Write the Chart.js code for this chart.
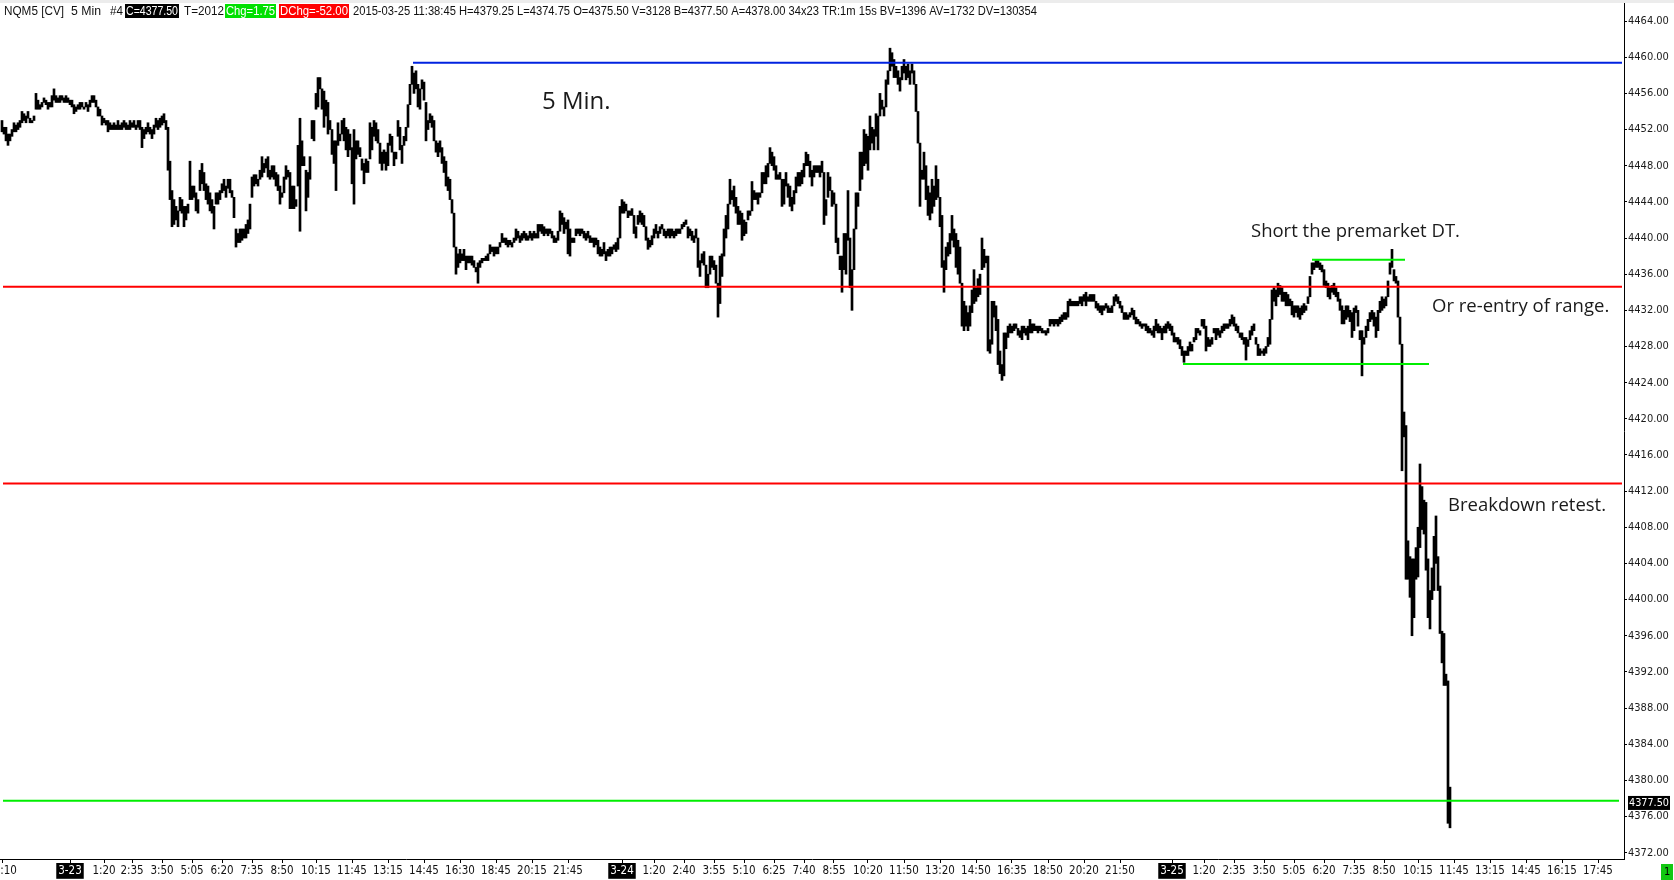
<!DOCTYPE html>
<html>
<head>
<meta charset="utf-8">
<title>NQM5 [CV] 5 Min</title>
<script src="https://cdn.jsdelivr.net/npm/chart.js@4.4.1/dist/chart.umd.min.js"></script>
<style>
html,body{margin:0;padding:0;background:#fff;overflow:hidden;}
canvas{display:block;}
</style>
</head>
<body>
<canvas id="mychart" width="1674" height="880"></canvas>
<script>
// 5 min bars, one slot per bar (index 0 = 3-22 21:10, last = 3-25 11:35)
const barHigh = [
4453,4452.25,4452.25,4451.5,4451.5,4452,4452.75,4452.5,4452.75,4453,
4454,4453.75,4453.5,4454,4453.25,4453,4453.5,4456,4455.25,4454.75,
4455,4455.5,4455.25,4455,4455,4455.75,4456.5,4455.75,4455.5,4455.75,
4455.75,4455.5,4455.75,4455.5,4455.25,4455.25,4454.75,4454.5,4454.75,4455,
4455,4454.5,4455,4454.75,4455.25,4455.75,4455.75,4455.25,4454.5,4454.25,
4453.5,4453.25,4453,4453,4452.75,4452.5,4452.75,4452.5,4453,4452.5,
4452.75,4453,4452.75,4452.5,4453,4452.75,4453,4452.5,4453,4453,
4452.25,4452,4452.25,4452.75,4452.25,4452,4452.5,4453.25,4453,4453.25,
4453.5,4453.75,4453,4452.25,4448.5,4445.25,4444.25,4443.5,4443,4444.5,
4444.25,4443.5,4443.5,4443.75,4448.5,4445.75,4445.75,4445,4444.25,4447.5,
4448.25,4447.25,4446,4445.75,4445,4444.25,4443.5,4445,4445,4445.25,
4446,4446.5,4445.75,4446.5,4446.5,4445.25,4444.5,4441,4440.5,4441,
4441,4441,4441.5,4442,4443.75,4446.75,4447,4447,4446.5,4447.5,
4449,4448.25,4448.75,4449,4447.5,4448,4448,4447.25,4447,4445.75,
4445,4446.75,4448,4447.5,4447.25,4445.75,4445.75,4444.25,4450.25,4453.25,
4450.75,4449,4447.5,4447.25,4449,4453,4453,4456,4457.75,4457.75,
4456.5,4456.25,4455.25,4455,4453,4452,4450.75,4450.75,4452.75,4451.5,
4453,4453.25,4452.25,4452,4451.5,4450,4452,4450.75,4450.75,4450,
4448.75,4448.25,4448.75,4448.5,4452.75,4452.25,4453,4452.75,4452,4450.5,
4449.5,4449.75,4449.5,4450.5,4451.5,4451.25,4449.5,4449.5,4453,4452.25,
4450.25,4451.25,4452.25,4454.75,4457,4459,4458.25,4458.5,4457,4456.5,
4457.5,4457.25,4455,4453,4453.75,4453.5,4453,4450.75,4450.5,4450.75,
4450,4449,4448.5,4446.75,4446.5,4444.25,4442.75,4439,4438.25,4438.75,
4438.25,4438.75,4438,4438,4438,4438,4437.5,4436.75,4437.25,4437.5,
4437.75,4437.75,4438,4438.25,4439.25,4439,4439,4439,4439,4439.5,
4440.5,4440,4440,4439.75,4439.75,4439.5,4440,4441,4440.75,4440.25,
4440.5,4440.75,4440.5,4440.25,4440.75,4440.5,4440.75,4440.5,4441.5,4441.5,
4441.5,4441.25,4441,4441,4441,4440.75,4440.25,4440,4440.75,4443,
4442.75,4442.25,4441.75,4442,4441,4440,4440,4441,4441,4441,
4441,4440.75,4440.5,4440.75,4440.25,4440,4440,4440,4439.75,4439,
4438.75,4439.5,4438.5,4438.75,4439,4439,4439.25,4439.5,4440,4443.5,
4444.25,4444,4443.75,4443,4443,4443.25,4442.5,4441.25,4442.5,4443,
4442.75,4442.5,4441.25,4440,4439.75,4440.25,4441,4441.5,4440.75,4441.25,
4441.5,4441,4440.75,4441,4441,4441,4440.75,4441,4441,4441,
4441.5,4441.75,4442,4441.25,4441,4440.75,4440.25,4441,4440,4437.5,
4438.25,4438.5,4437,4436,4438,4438,4437.5,4437,4435,4438,
4438.25,4441,4442.5,4443.75,4446.5,4445.25,4445.75,4444.5,4443.5,4443,
4442.75,4442,4441.75,4443,4443,4446.25,4445.25,4445,4445,4445,
4447.25,4447.25,4448,4448.25,4450,4449.5,4449,4448,4447,4447.25,
4446.5,4446.5,4447.25,4446,4445.75,4444.5,4445.25,4446.75,4447.25,4447.25,
4447.5,4448.25,4449.5,4449.25,4448.5,4447.5,4448,4448,4448,4448,
4448.5,4447.25,4444.25,4447.25,4446.75,4445.25,4445,4443.75,4440,4438,
4438,4440.5,4440.5,4445.25,4440,4436.5,4441,4445,4445,4449.5,
4449.5,4452,4451.5,4451.25,4453.5,4452.25,4452,4453.75,4453.5,4456,
4455.25,4454.5,4457.5,4458.5,4461,4460.5,4459.75,4459,4458.5,4457.75,
4459,4459.75,4459,4459.25,4458.5,4459.25,4458.5,4457,4454,4450.5,
4447.5,4449.5,4448,4445.75,4445,4446.5,4445.75,4448,4446.5,4444.5,
4442.5,4437.5,4439,4439.5,4440.5,4442.5,4441,4440.5,4439.75,4439,
4435,4433,4432.5,4431.75,4432.5,4434.25,4436.5,4434.5,4435.5,4436,
4440,4438.75,4438,4438,4428.75,4433,4433,4432.5,4431,4427.5,
4426,4429.5,4429.5,4430.25,4430.5,4430.25,4430.5,4430.5,4430,4429.75,
4430.25,4430.25,4430,4430.25,4431,4430.5,4430.5,4430.25,4430.25,4430.25,
4430,4429.75,4429.75,4430,4431,4431,4431,4431,4431,4431.25,
4431.5,4431.75,4431.75,4433,4433.25,4433,4433,4433,4433,4433.5,
4433.5,4433.75,4434,4433.5,4433.75,4433.75,4433.75,4433,4432.75,4432.5,
4432.5,4432.5,4432.75,4432.5,4432.25,4432.5,4433.5,4433.75,4433.5,4433,
4432.5,4431.75,4431.75,4431.5,4431.75,4432.25,4432,4431.25,4431,4430.75,
4430.5,4430.5,4430.5,4430.25,4430,4429.75,4430.25,4431,4430.5,4430.25,
4430,4430.25,4430.5,4430.75,4430.5,4430.25,4429.5,4429,4429,4428.75,
4428,4427.5,4427.5,4428,4428.5,4428.25,4429,4430,4430,4429.75,
4431,4431,4430.25,4429,4428.75,4429,4430,4430,4430,4429.75,
4430.25,4430.5,4430.5,4430.5,4431,4431.5,4431.25,4430.5,4430.25,4429.5,
4429.5,4429,4429,4428.75,4429.75,4430.25,4430.5,4429,4428.25,4427.75,
4427.5,4427.75,4428,4429,4431,4434.25,4434.5,4434.25,4435,4434.75,
4434.5,4434,4434,4433.75,4433.25,4433,4432.5,4432.5,4432.5,4432.25,
4432.5,4432.75,4432.5,4433.5,4435.75,4437.25,4437.25,4437.5,4437.5,4437.25,
4437,4436.5,4435.25,4435,4434.5,4434.75,4435,4434.5,4434,4433.25,
4432.5,4432,4432.5,4432.5,4432,4431.75,4432.25,4432.5,4432,4429.75,
4429.75,4429,4430.25,4431,4431.75,4432,4431.75,4431.25,4432,4433,
4433.5,4433.25,4433.5,4435.25,4437.25,4438.75,4436.5,4435.75,4435.25,4431.25,
4428.25,4420.75,4419.25,4406.5,4404.75,4404.5,4404.5,4405.75,4408,4415,
4412.5,4411,4410.75,4404.5,4401,4403.5,4407,4409.25,4404.75,4401.5,
4396.5,4396.25,4391.75,4391,4379.25
];
const barLow = [
4451.75,4451.5,4450.75,4450.25,4450.75,4451.25,4451.75,4451.75,4452,4452.25,
4452.75,4453,4452.75,4453.25,4452.75,4452.75,4453,4454.25,4454.25,4454.25,
4454.5,4455,4454.75,4454.25,4454.5,4454.5,4455.25,4455,4455,4455,
4455.25,4455,4455,4455,4454.75,4454.5,4453.75,4454,4454.25,4454.25,
4454.5,4454.25,4454.5,4454,4454.5,4455,4455,4454.5,4453.5,4453.5,
4452.5,4452.75,4452.5,4451.75,4452,4452,4452,4452,4452,4452,
4452,4452.25,4452,4452,4452,4452.25,4452.25,4452,4452.25,4452,
4450,4451,4451.5,4451.75,4451.5,4451,4451.5,4452.25,4452,4452.25,
4452.5,4452.75,4452,4447.5,4444.25,4441.25,4441.5,4442,4441.25,4443,
4442.75,4441.25,4442,4442.75,4444.25,4444.25,4444.5,4443,4442.75,4445.25,
4446,4445.25,4444.25,4443.75,4443,4442.75,4441,4443.75,4443.75,4444.25,
4445,4445.25,4444.5,4445.5,4445,4444.5,4442.25,4439,4439.5,4439.5,
4439.75,4440,4440,4440.5,4441,4444.5,4445.75,4446,4445.75,4446.5,
4446.75,4447.25,4447.75,4446.75,4446.5,4446.75,4446.5,4445.75,4445.25,4443.75,
4444.5,4445,4446.5,4446.75,4443.25,4443.25,4443.25,4443.5,4445.75,4440.75,
4448,4448,4443,4444.5,4446.5,4451,4450.75,4454.25,4454.5,4456.5,
4454.25,4452.25,4453.5,4451.5,4452,4449.25,4448.25,4445.25,4450.25,4450.75,
4451.5,4450.75,4449.75,4449,4449.75,4446,4443.75,4448.75,4449.25,4449,
4447.5,4446,4447.25,4447.25,4448.75,4449.75,4451.25,4450.75,4450.5,4448.25,
4447.5,4448.25,4447.5,4448,4450.25,4449.5,4448,4448.75,4451.25,4449.75,
4448.25,4450.25,4450.75,4452.25,4454.75,4457,4456,4456.5,4454.5,4454.25,
4456.5,4455.25,4450.75,4452,4452.75,4452.25,4450.75,4449.5,4449,4449.5,
4448.25,4447.25,4445.75,4445.25,4444.25,4442.75,4439,4436,4436.75,4437.25,
4437.5,4437.5,4436.5,4437.25,4437.25,4437,4436.75,4436.25,4435,4436.75,
4437.25,4437.5,4437.5,4437.5,4438.25,4438.5,4438,4438.25,4438.25,4439,
4439.5,4439.5,4439.25,4439,4439.25,4439,4439.5,4439.75,4440,4439.5,
4439.75,4440,4439.75,4439.75,4440,4439.75,4440,4440,4440,4440.75,
4440.5,4440.25,4440.5,4440.25,4440.5,4440,4439.5,4439.5,4439.75,4440.75,
4441.5,4440.5,4441,4438.25,4438,4439.5,4439.5,4440.25,4440.5,4440.25,
4440.5,4440,4439.75,4440,4439.5,4439.5,4439,4439.25,4438.25,4438,
4438,4438.25,4437.5,4438,4438,4438.25,4438.75,4438.5,4438.75,4440,
4442.75,4442.75,4443,4442.25,4442.5,4442.5,4440.5,4440,4441.5,4441.75,
4441.5,4441.25,4439.75,4438.75,4439,4439.25,4440,4440.5,4440,4440.5,
4441,4440.25,4440,4440.25,4440,4440.25,4440,4440.25,4440.5,4440.5,
4441,4441.25,4441.5,4440,4440.25,4439.75,4439.5,4440,4436.75,4435.75,
4437.25,4437,4434.5,4434.5,4436,4436.75,4436.5,4435,4431.25,4432.75,
4435.75,4438,4440,4441,4443.75,4444.25,4443.5,4442.75,4441.5,4441.5,
4439.75,4440.25,4440.5,4442,4442.5,4443,4444.25,4444.25,4443.75,4444.5,
4445,4446,4446,4446.75,4448.25,4448,4447.5,4446.5,4446.5,4446.5,
4443.5,4443.75,4445.75,4444.5,4443.5,4443,4443.75,4445,4445.75,4445.75,
4446,4446.75,4448,4448,4446.75,4445.75,4446.75,4447.25,4447.25,4446.75,
4447.25,4441.5,4442.5,4444.5,4445.25,4443.5,4443.75,4439.5,4438.25,4436.5,
4434,4436.5,4436,4439.75,4434.5,4432,4436.5,4441,4443.5,4445.25,
4446.5,4448,4448.25,4447.5,4449.75,4450.5,4449.75,4451.25,4449.75,4453.5,
4454.25,4453.5,4454.5,4457,4458.5,4459,4457.75,4457.75,4457,4456.25,
4457.5,4458.25,4457.5,4457.75,4457,4458.25,4457,4454,4450.5,4443.5,
4446.5,4446.5,4444.25,4442.5,4442,4442.75,4443.5,4444.25,4444.5,4441.25,
4436.75,4434,4436.5,4438,4438.25,4439.75,4439,4436.75,4436,4435,
4430.25,4429.75,4430.25,4429.75,4430.25,4431.75,4432.75,4433,4433.5,4433.75,
4436.5,4436.75,4437.25,4427.5,4427.25,4428.25,4431.25,4429.75,4426,4425,
4424.25,4424.75,4427.75,4429,4429.5,4429.5,4429.75,4430,4429.25,4429,
4428.75,4429.5,4429.25,4428.75,4429.5,4429.5,4429.75,4429.75,4429.5,4429.75,
4429.5,4429.5,4429.25,4429.5,4430.25,4430.5,4430.25,4430.5,4430.25,4430.5,
4430.75,4431,4431,4431.25,4432.5,4432.5,4432.5,4432.5,4432.5,4432.75,
4432.5,4433,4432.5,4433,4433,4433,4433,4432.25,4432,4431.75,
4431.5,4432,4432.25,4431.75,4431.75,4431.75,4432.5,4433,4432.75,4432.25,
4431.75,4431,4431,4431,4431.25,4431.5,4431,4430.5,4430.5,4430.25,
4430,4430.25,4429.75,4429.5,4429.5,4429.25,4429,4429.75,4429.5,4429.5,
4428.75,4429.5,4429.5,4430,4429.75,4429.25,4428.5,4428.5,4428.25,4427.75,
4427,4426.25,4427,4427,4427.5,4427.5,4428.5,4428.75,4429.5,4429.25,
4430.25,4430,4427.5,4428,4428,4428.25,4429.5,4428.75,4429.25,4429,
4429.5,4429.75,4430,4430,4430.25,4430.5,4430.25,4429.75,4429.5,4429,
4428.75,4428.25,4426.5,4428,4428.75,4429.25,4429.75,4428.25,4427,4427,
4427.25,4427,4427.25,4428,4428.25,4431,4433,4432.5,4433.5,4433.75,
4433,4433,4432.5,4432.5,4432.5,4431.5,4431.25,4431.75,4431.25,4431,
4431.5,4431.75,4432,4432.75,4433.5,4436,4436.5,4436.75,4436.75,4436.5,
4436.25,4434.75,4434.5,4433.5,4433.25,4434,4433.75,4433.5,4433,4432,
4430.5,4430.5,4431,4431.25,4430.75,4429,4429.75,4431.75,4430.25,4428.75,
4424.75,4428.25,4429,4429.75,4430.75,4431,4430.25,4429,4429.75,4431.75,
4432,4432.25,4432.5,4433.5,4436,4436.75,4435.25,4435,4431.25,4428.25,
4414.25,4418,4402.25,4402.25,4400.25,4396,4398,4402.25,4402.5,4405.75,
4407.75,4407.25,4403.25,4398,4396.75,4400,4401,4404,4401,4396.25,
4393,4390.5,4390.5,4375.25,4374.75
];
const lastPrice = 4377.5;

const xTickIdx = [0,34,51,65,80,95,110,125,140,157,175,193,211,229,247,265,283,
  310,326,341,356,371,386,401,416,433,451,469,487,505,523,541,559,
  585,601,616,631,646,661,676,691,708,726,744,762,780,798];
const xTickText = ['21:10','3-23','1:20','2:35','3:50','5:05','6:20','7:35','8:50','10:15','11:45','13:15','14:45','16:30','18:45','20:15','21:45',
  '3-24','1:20','2:40','3:55','5:10','6:25','7:40','8:55','10:20','11:50','13:20','14:50','16:35','18:50','20:20','21:50',
  '3-25','1:20','2:35','3:50','5:05','6:20','7:35','8:50','10:15','11:45','13:15','14:45','16:15','17:45'];
const yTickVals = [4372,4376,4380,4384,4388,4392,4396,4400,4404,4408,4412,4416,4420,4424,4428,4432,4436,4440,4444,4448,4452,4456,4460,4464];

// drawn price levels: value, first and last bar slot
const levelValue = [4459.4, 4434.6, 4412.85, 4377.75, 4437.6, 4426.05];
const levelFrom = [205.5, 0.5, 0.5, 0.5, 655, 590.5];
const levelTo = [810, 810, 810, 808.5, 701.5, 713.5];

const noteText = ['5 Min.', 'Short the premarket DT.', 'Or re-entry of range.', 'Breakdown retest.'];
const noteX = [270, 624.5, 715, 723];
const noteY = [4455.0, 4440.75, 4432.35, 4410.35];

const headerText = ['NQM5 [CV]', '5 Min', '#4', 'C=4377.50', 'T=2012', 'Chg=1.75', 'DChg=-52.00',
  '2015-03-25 11:38:45 H=4379.25 L=4374.75 O=4375.50 V=3128 B=4377.50 A=4378.00 34x23 TR:1m 15s BV=1396 AV=1732 DV=130354'];

// styles
const levelColors = ['#0022e0', '#ff0000', '#ff0000', '#00ee00', '#00ee00', '#00ee00'];
const headerPos = [
  {x:4, w:60}, {x:71, w:30}, {x:110, w:13},
  {x:125, w:54, bg:'#000', fg:'#fff'}, {x:184, w:40},
  {x:225, w:51, bg:'#00e000', fg:'#fff'}, {x:279, w:70, bg:'#ff0000', fg:'#fff'},
  {x:353, w:684}
];
const axisFont = "'DejaVu Sans Condensed', 'Liberation Sans', sans-serif";
const noteFont = "'Open Sans', 'Noto Sans', sans-serif";

if (barHigh.length !== barLow.length) console.warn('bar arrays differ', barHigh.length, barLow.length);

const overlay = {
  id: 'overlay',
  afterDraw(chart) {
    const ctx = chart.ctx, xs = chart.scales.x, ys = chart.scales.y;
    ctx.save();
    ctx.fillStyle = '#ececec';
    ctx.fillRect(0, 0, chart.width, 3);

    ctx.font = "12.5px 'Liberation Sans', Arial, sans-serif";
    ctx.textBaseline = 'alphabetic';
    ctx.textAlign = 'left';
    headerText.forEach(function(t, i) {
      const p = headerPos[i];
      if (p.bg) {
        ctx.fillStyle = p.bg;
        ctx.fillRect(p.x, 4, p.w, 14);
        ctx.fillStyle = p.fg;
        ctx.fillText(t, p.x + 1, 15, p.w - 2);
      } else {
        ctx.fillStyle = '#111';
        ctx.fillText(t, p.x, 15, p.w);
      }
    });

    ctx.textBaseline = 'middle';
    ctx.fillStyle = '#1a1a1a';
    noteText.forEach(function(t, i) {
      ctx.font = (i === 0 ? '24px ' : '18.5px ') + noteFont;
      ctx.fillText(t, xs.getPixelForValue(noteX[i]), ys.getPixelForValue(noteY[i]));
    });

    const py = ys.getPixelForValue(lastPrice);
    ctx.fillStyle = '#000';
    ctx.fillRect(xs.right + 4, py - 7, 42, 14);
    ctx.fillStyle = '#fff';
    ctx.font = '11px ' + axisFont;
    ctx.fillText(lastPrice.toFixed(2), xs.right + 5, py + 0.5, 40);

    ctx.fillStyle = '#12c812';
    ctx.fillRect(chart.width - 13, chart.height - 16, 12, 16);
    ctx.fillStyle = '#000';
    ctx.fillText('1', chart.width - 10, chart.height - 8);
    ctx.restore();
  }
};

const datasets = levelValue.map(function(v, i) {
  return {
    type: 'line',
    data: [{x: levelFrom[i], y: v}, {x: levelTo[i], y: v}],
    borderColor: levelColors[i],
    borderWidth: 2,
    pointRadius: 0,
    order: 0
  };
});
datasets.push({
  type: 'bar',
  data: barLow.map(function(lo, i) { return {x: i, y: [lo, barHigh[i]]}; }),
  backgroundColor: '#000',
  borderWidth: 0,
  barThickness: 2,
  order: 1
});

const isDay = function(i) { return /^\d-\d\d$/.test(xTickText[i] || ''); };

new Chart(document.getElementById('mychart').getContext('2d'), {
  type: 'bar',
  data: { datasets: datasets },
  options: {
    responsive: false,
    animation: false,
    devicePixelRatio: 1,
    layout: { padding: { top: 3, left: 0, right: 0, bottom: 0 } },
    plugins: { legend: { display: false }, tooltip: { enabled: false } },
    scales: {
      x: {
        type: 'linear',
        position: 'bottom',
        min: -1,
        max: 811,
        offset: false,
        bounds: 'data',
        grid: { drawOnChartArea: false, drawTicks: true, tickLength: 4, color: '#000', offset: false },
        border: { display: true, color: '#000', width: 1 },
        afterBuildTicks: function(s) { s.ticks = xTickIdx.map(function(v) { return {value: v}; }); },
        afterFit: function(s) { s.height = 21; s.paddingLeft = 0; s.paddingRight = 0; },
        ticks: {
          autoSkip: false,
          maxRotation: 0,
          minRotation: 0,
          padding: 1,
          font: { family: axisFont, size: 11.5 },
          color: function(c) { return isDay(c.index) ? '#fff' : '#111'; },
          showLabelBackdrop: function(c) { return isDay(c.index); },
          backdropColor: '#000',
          backdropPadding: { top: 1, bottom: 1, left: 2, right: 2 },
          callback: function(v, i) { return xTickText[i]; }
        }
      },
      y: {
        type: 'linear',
        position: 'right',
        min: 4371.3,
        max: 4466,
        bounds: 'data',
        grid: { drawOnChartArea: false, drawTicks: true, tickLength: 3, color: '#000' },
        border: { display: true, color: '#000', width: 1 },
        afterBuildTicks: function(s) { s.ticks = yTickVals.map(function(v) { return {value: v}; }); },
        afterFit: function(s) { s.width = 50; s.paddingTop = 0; s.paddingBottom = 0; },
        ticks: {
          padding: 1,
          font: { family: axisFont, size: 11 },
          color: '#1a1a1a',
          callback: function(v) { return Number(v).toFixed(2); }
        }
      }
    }
  },
  plugins: [overlay]
});
</script>
</body>
</html>
